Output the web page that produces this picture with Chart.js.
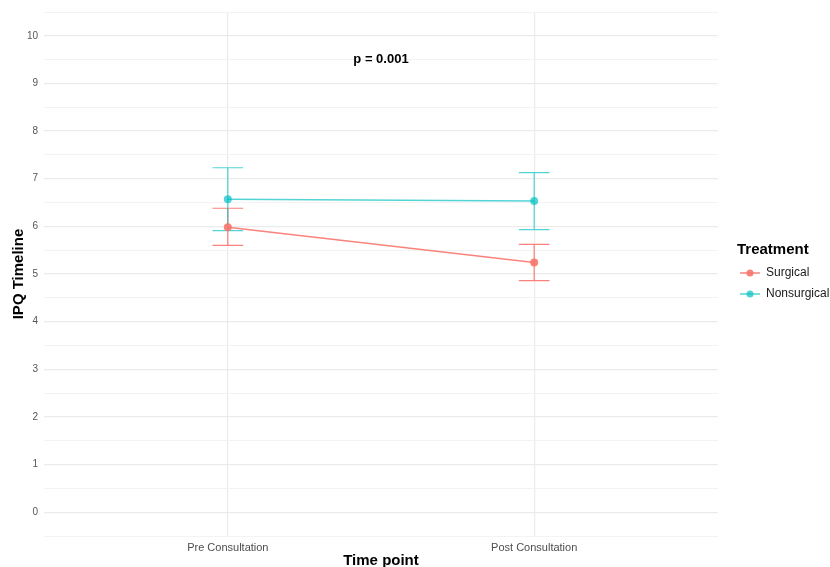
<!DOCTYPE html>
<html>
<head>
<meta charset="utf-8">
<script src="https://cdn.jsdelivr.net/npm/chart.js@4"></script>
<style>
  html, body { margin: 0; padding: 0; background: #ffffff; }
  #wrap { width: 830px; height: 567px; }
</style>
</head>
<body>
<div id="wrap"><canvas id="ipqChart" width="830" height="567"></canvas></div>
<script>
// IPQ timeline means with error bars, by treatment group
const timePoints = ['Pre Consultation', 'Post Consultation'];
const surgicalMean = [5.98, 5.24];
const surgicalLower = [5.60, 4.86];
const surgicalUpper = [6.38, 5.62];
const nonsurgicalMean = [6.57, 6.53];
const nonsurgicalLower = [5.91, 5.93];
const nonsurgicalUpper = [7.23, 7.13];
const yTicks = [0, 1, 2, 3, 4, 5, 6, 7, 8, 9, 10];
const pValueText = 'p = 0.001';

const FONT = '"Liberation Sans", Arial, sans-serif';
const surgicalColor = 'rgba(248, 118, 109, 0.9)';
const nonsurgicalColor = 'rgba(0, 191, 196, 0.68)';

const groups = [
    { label: 'Surgical', mean: surgicalMean, lower: surgicalLower, upper: surgicalUpper, color: surgicalColor },
    { label: 'Nonsurgical', mean: nonsurgicalMean, lower: nonsurgicalLower, upper: nonsurgicalUpper, color: nonsurgicalColor }
];

function toPoints(values) {
    return values.map((v, i) => ({ x: i + 1, y: v }));
}

// vertical error bars with caps, drawn under the lines and points
const errorBars = {
    id: 'errorBars',
    beforeDatasetsDraw(chart) {
        const ctx = chart.ctx;
        const xs = chart.scales.x;
        const ys = chart.scales.y;
        const capHalf = 0.05;
        ctx.save();
        ctx.lineWidth = 1.2;
        groups.forEach(g => {
            ctx.strokeStyle = g.color;
            g.mean.forEach((m, i) => {
                const x = xs.getPixelForValue(i + 1);
                const xl = xs.getPixelForValue(i + 1 - capHalf);
                const xr = xs.getPixelForValue(i + 1 + capHalf);
                const yLo = ys.getPixelForValue(g.lower[i]);
                const yHi = ys.getPixelForValue(g.upper[i]);
                ctx.beginPath();
                ctx.moveTo(x, yLo); ctx.lineTo(x, yHi);
                ctx.moveTo(xl, yLo); ctx.lineTo(xr, yLo);
                ctx.moveTo(xl, yHi); ctx.lineTo(xr, yHi);
                ctx.stroke();
            });
        });
        ctx.restore();
    }
};

// p-value annotation and the group legend on the right
const annotations = {
    id: 'annotations',
    afterDraw(chart) {
        const ctx = chart.ctx;
        const xs = chart.scales.x;
        const ys = chart.scales.y;
        ctx.save();
        ctx.fillStyle = '#000000';
        ctx.font = 'bold 13px ' + FONT;
        ctx.textAlign = 'center';
        ctx.textBaseline = 'middle';
        ctx.fillText(pValueText, xs.getPixelForValue(1.5), ys.getPixelForValue(9.5));

        const lx = chart.chartArea.right + 19;
        ctx.textAlign = 'left';
        ctx.font = 'bold 15px ' + FONT;
        ctx.fillText('Treatment', lx, 250);
        ctx.font = '12px ' + FONT;
        groups.forEach((g, i) => {
            const y = 273 + i * 21;
            ctx.strokeStyle = g.color;
            ctx.fillStyle = g.color;
            ctx.lineWidth = 1.5;
            ctx.beginPath();
            ctx.moveTo(lx + 3, y); ctx.lineTo(lx + 23, y);
            ctx.stroke();
            ctx.beginPath();
            ctx.arc(lx + 13, y, 3.5, 0, Math.PI * 2);
            ctx.fill();
            ctx.fillStyle = '#1a1a1a';
            ctx.fillText(g.label, lx + 29, y);
        });
        ctx.restore();
    }
};

const ctx = document.getElementById('ipqChart').getContext('2d');
new Chart(ctx, {
    type: 'line',
    data: {
        datasets: groups.map(g => ({
            label: g.label,
            data: toPoints(g.mean),
            borderColor: g.color,
            backgroundColor: g.color,
            borderWidth: 1.5,
            pointRadius: 4,
            pointBorderWidth: 0,
            pointBackgroundColor: g.color,
            tension: 0
        }))
    },
    options: {
        responsive: false,
        animation: false,
        layout: { padding: { top: 11, right: 112, left: 0, bottom: 0 } },
        plugins: {
            legend: { display: false },
            tooltip: { enabled: false }
        },
        scales: {
            x: {
                type: 'linear',
                min: 0.4,
                max: 2.6,
                afterBuildTicks: scale => { scale.ticks = timePoints.map((t, i) => ({ value: i + 1 })); },
                afterFit: scale => { scale.height = 31; },
                border: { display: false },
                grid: { color: '#ebebeb', lineWidth: 1.2, drawTicks: false },
                ticks: {
                    color: '#4d4d4d',
                    font: { family: FONT, size: 11 },
                    padding: 5,
                    maxRotation: 0,
                    callback: value => timePoints[value - 1] || ''
                },
                title: {
                    display: true,
                    text: 'Time point',
                    color: '#000000',
                    font: { family: FONT, size: 15, weight: 'bold', lineHeight: 0.8 },
                    padding: 0
                }
            },
            y: {
                min: -0.5,
                max: 10.5,
                afterBuildTicks: scale => {
                    const ticks = [];
                    yTicks.forEach(v => { ticks.push({ value: v - 0.5 }); ticks.push({ value: v }); });
                    ticks.push({ value: 10.5 });
                    scale.ticks = ticks;
                },
                afterFit: scale => { scale.width = 44; },
                border: { display: false },
                grid: {
                    drawTicks: false,
                    color: c => (c.tick && Number.isInteger(c.tick.value)) ? '#ebebeb' : '#f3f3f3',
                    lineWidth: c => (c.tick && Number.isInteger(c.tick.value)) ? 1.2 : 1
                },
                ticks: {
                    color: '#555555',
                    font: { family: FONT, size: 10 },
                    padding: 6,
                    callback: value => Number.isInteger(value) ? String(value) : ''
                },
                title: {
                    display: true,
                    text: 'IPQ Timeline',
                    color: '#000000',
                    font: { family: FONT, size: 15, weight: 'bold', lineHeight: 1.2 },
                    padding: { top: 10, bottom: 0 }
                }
            }
        }
    },
    plugins: [errorBars, annotations]
});
</script>
</body>
</html>
